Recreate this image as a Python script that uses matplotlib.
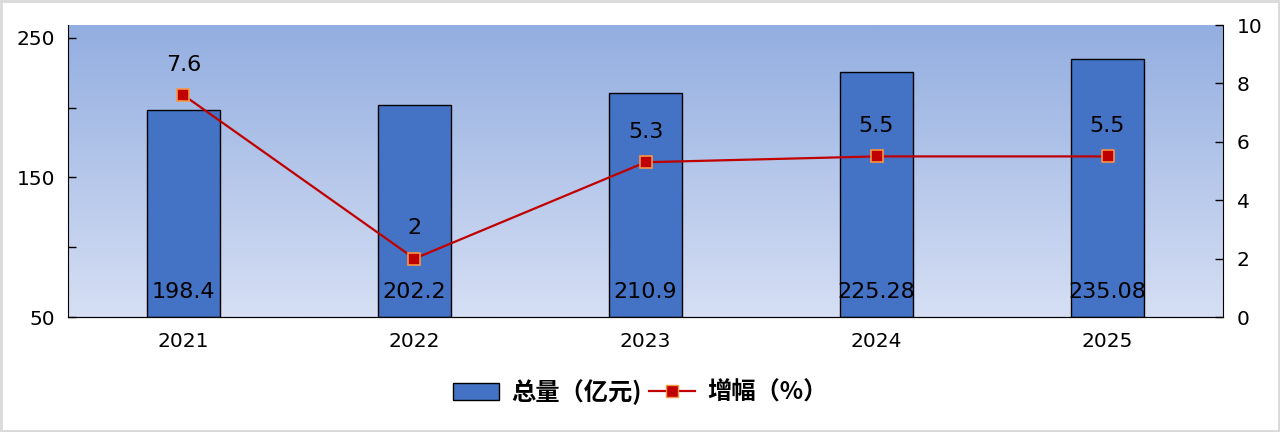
import numpy as np
import matplotlib.pyplot as plt
from matplotlib.patches import Rectangle

plt.rcParams['font.family'] = ['DejaVu Sans', 'Noto Sans CJK SC']

years = ['2021', '2022', '2023', '2024', '2025']
totals = [198.4, 202.2, 210.9, 225.28, 235.08]
growth = [7.6, 2, 5.3, 5.5, 5.5]
total_labels = ['198.4', '202.2', '210.9', '225.28', '235.08']
growth_labels = ['7.6', '2', '5.3', '5.5', '5.5']

fig = plt.figure(figsize=(12.8, 4.32), dpi=100)
ax = fig.add_axes([0.0531, 0.2662, 0.9024, 0.6759])
x = np.arange(len(years))

# gradient background
grad = np.linspace(0, 1, 256).reshape(-1, 1)
top = np.array([0x93, 0xae, 0xe0]) / 255
bot = np.array([0xd6, 0xdf, 0xf4]) / 255
img = top + (bot - top) * grad[:, :, None] * np.ones((1, 1, 3))
ax.imshow(img, extent=[-0.5, 4.5, 50, 259.3], aspect='auto', zorder=0)

ax.bar(x, [t - 50 for t in totals], bottom=50, width=0.315, color='#4472c4',
       edgecolor='black', linewidth=1, zorder=2)
ax.set_xlim(-0.5, 4.5)
ax.set_ylim(50, 259.3)
ax.set_yticks([50, 150, 250])
ax.set_yticks([100, 200], minor=True)
ax.set_xticks(x)
ax.set_xticklabels(years)
ax.tick_params(axis='both', direction='in', labelsize=14.5, length=6, width=1)
ax.tick_params(axis='y', which='minor', direction='in', length=6, width=1)
ax.tick_params(axis='x', pad=11)
ax.tick_params(axis='y', pad=9)
for s in ['top', 'right']:
    ax.spines[s].set_visible(False)
for lbl, xi in zip(total_labels, x):
    ax.annotate(lbl, (xi, 50), xytext=(0, 18), textcoords='offset points',
                ha='center', va='center', fontsize=16, zorder=5)

ax2 = ax.twinx()
ax2.plot(x, growth, color='#c00000', linewidth=1.6, marker='s', markersize=8,
         markerfacecolor='#c00000', markeredgecolor='#f79646', markeredgewidth=1.2, zorder=4)
ax2.set_ylim(0, 10)
ax2.set_yticks([0, 2, 4, 6, 8, 10])
ax2.tick_params(axis='y', direction='in', labelsize=14.5, length=6, width=1, pad=10)
ax2.spines['top'].set_visible(False)
ax2.spines['left'].set_visible(False)
for lbl, xi, g in zip(growth_labels, x, growth):
    ax2.annotate(lbl, (xi, g), xytext=(0, 22), textcoords='offset points',
                 ha='center', va='center', fontsize=16)

h1 = Rectangle((0, 0), 1, 1, facecolor='#4472c4', edgecolor='black')
h2, = ax2.plot([], [], color='#c00000', linewidth=1.6, marker='s', markersize=8,
               markerfacecolor='#c00000', markeredgecolor='#f79646')
fig.legend([h1, h2], ['总量（亿元)', '增幅（%）'], loc='center', bbox_to_anchor=(0.5, 0.093),
           ncol=2, frameon=False, handlelength=1.9, columnspacing=0.3, handletextpad=0.5,
           prop={'family': ['Noto Sans CJK SC'], 'weight': 'bold', 'size': 17.5})

fig.patches.append(Rectangle((0.001, 0.002), 0.998, 0.996, transform=fig.transFigure,
                             fill=False, edgecolor='#d9d9d9', linewidth=2))

fig.savefig('out.png', dpi=100)
